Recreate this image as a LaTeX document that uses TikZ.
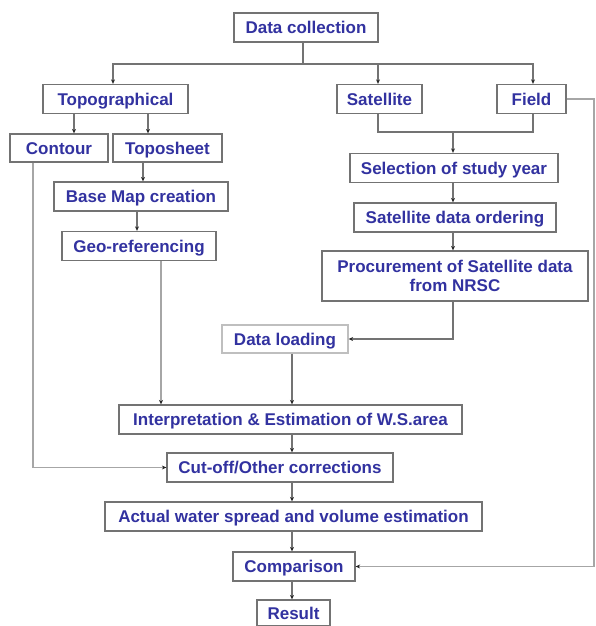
\documentclass[tikz,border=0pt]{standalone}
\usepackage{fontspec}
\setmainfont{Liberation Sans}
\usetikzlibrary{arrows.meta}
\definecolor{txtblue}{RGB}{50,50,160}
\begin{document}
\begin{tikzpicture}[x=1pt,y=-1pt,
  box/.style={draw=black!55,line width=1.3pt,fill=white,text=txtblue,
    font=\bfseries\fontsize{17}{19}\selectfont,inner sep=0pt,
    text height=12.2pt,text depth=0pt,minimum height=29pt},
  link/.style={draw=black!55,line width=1.1pt},
  tip/.style={link,-{Stealth[length=4.5pt,width=4pt,black!85]}}]
  \useasboundingbox (0,0) rectangle (595,626);

  \node [box,minimum width=144pt] (coll) at (306,27.5) {Data collection};
  \node [box,minimum width=145pt] (topo) at (115.5,99) {Topographical};
  \node [box,minimum width=85pt] (sat) at (379.5,99) {Satellite};
  \node [box,minimum width=69pt] (field) at (531.5,99) {Field};
  \node [box,minimum width=98pt,minimum height=28pt] (contour) at (59,148) {Contour};
  \node [box,minimum width=109pt,minimum height=28pt] (sheet) at (167.5,148) {Toposheet};
  \node [box,minimum width=174pt] (basemap) at (141,196.5) {Base Map creation};
  \node [box,minimum width=154pt] (georef) at (139,246) {Geo-referencing};
  \node [box,minimum width=208pt] (studyyr) at (454,168) {Selection of study year};
  \node [box,minimum width=202pt] (order) at (455,217.5) {Satellite data ordering};
  \node [box,minimum width=266pt,minimum height=50pt,text height=,align=center] (procure) at (455,276)
    {Procurement of Satellite data\\from NRSC};
  \node [box,draw=black!25,minimum width=126pt,minimum height=28pt] (loading) at (285,339) {Data loading};
  \node [box,minimum width=343pt] (interp) at (290.5,419.5) {Interpretation \& Estimation of W.S.area};
  \node [box,minimum width=226pt] (cutoff) at (280,467.5) {Cut-off/Other corrections};
  \node [box,minimum width=377pt] (actual) at (293.5,516.5) {Actual water spread and volume estimation};
  \node [box,minimum width=122pt] (compare) at (294,566.5) {Comparison};
  \node [box,minimum width=73pt,minimum height=26pt] (result) at (293.5,613) {Result};

  \coordinate (split) at (303,64);
  \coordinate (join) at (453,132);
  \coordinate (turn) at (594,99);

  % data sources
  \draw [link] (coll.south -| split) -- (split);
  \draw [tip] (split) -| (topo.north -| 113,0);
  \draw [tip] (split) -| (sat.north -| 378,0);
  \draw [tip] (split) -| (field.north -| 533,0);

  % topographical branch
  \draw [tip] (topo.south -| 74,0) -- (contour.north -| 74,0);
  \draw [tip] (topo.south -| 148,0) -- (sheet.north -| 148,0);
  \draw [tip] (sheet.south -| 143,0) -- (basemap.north -| 143,0);
  \draw [tip] (basemap.south -| 137,0) -- (georef.north -| 137,0);
  \draw [tip,draw=black!35] (georef.south -| 161,0) -- (interp.north -| 161,0);

  % satellite branch
  \draw [link] (sat.south -| 378,0) |- (join) -| (field.south -| 533,0);
  \draw [tip] (join) -- (studyyr.north -| join);
  \draw [tip] (studyyr.south -| 453,0) -- (order.north -| 453,0);
  \draw [tip] (order.south -| 453,0) -- (procure.north -| 453,0);
  \draw [tip] (procure.south -| 453,0) |- (loading.east);
  \draw [tip] (loading.south -| 292,0) -- (interp.north -| 292,0);

  % main line
  \draw [tip,draw=black!35] (contour.south -| 33,0) |- (cutoff.west);
  \draw [tip] (interp.south -| 292,0) -- (cutoff.north -| 292,0);
  \draw [tip] (cutoff.south -| 292,0) -- (actual.north -| 292,0);
  \draw [tip] (actual.south -| 292,0) -- (compare.north -| 292,0);
  \draw [tip] (compare.south -| 292,0) -- (result.north -| 292,0);
  \draw [tip,draw=black!35] (field.east) -- (turn) |- (compare.east);
\end{tikzpicture}
\end{document}
